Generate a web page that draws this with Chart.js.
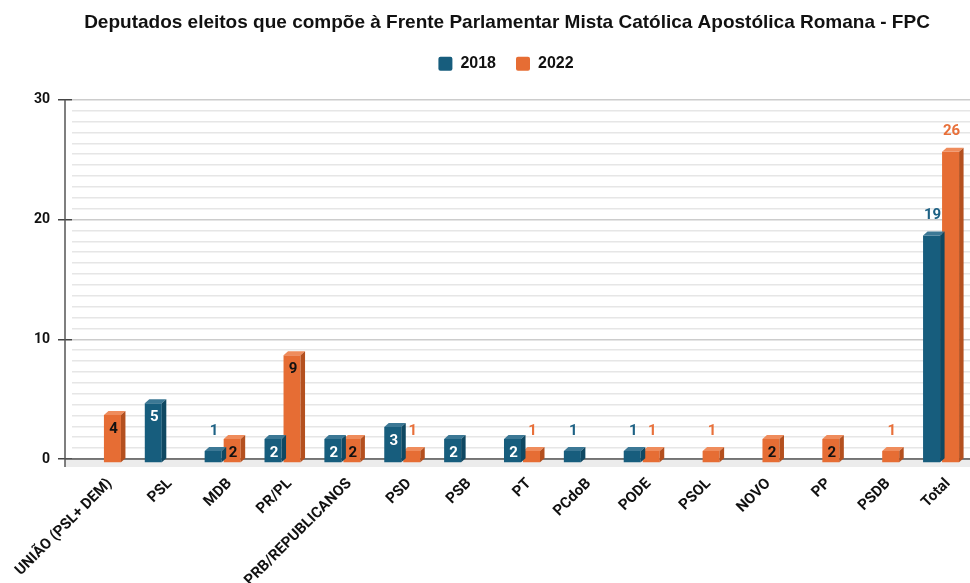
<!DOCTYPE html>
<html>
<head>
<meta charset="utf-8">
<script src="https://cdn.jsdelivr.net/npm/chart.js"></script>
<style>
  body { margin: 0; background: #fff; }
</style>
</head>
<body>
<canvas id="myChart" width="970" height="583"></canvas>
<script>
// Data
const categories = ['UNIÃO (PSL+ DEM)', 'PSL', 'MDB', 'PR/PL', 'PRB/REPUBLICANOS', 'PSD', 'PSB', 'PT', 'PCdoB', 'PODE', 'PSOL', 'NOVO', 'PP', 'PSDB', 'Total'];
const deputados2018 = [0, 5, 1, 2, 2, 3, 2, 2, 1, 1, 0, 0, 0, 0, 19];
const deputados2022 = [4, 0, 2, 9, 2, 1, 0, 1, 0, 1, 1, 2, 2, 1, 26];
const yTicks = [0, 10, 20, 30];

// 3d look: front face shifted down, top and side faces drawn by hand
const depth = { dx: 4.5, dy: 4 };
const faces = [
  { front: '#175d7d', top: '#3c7895', side: '#0f4862', inText: '#ffffff', outText: '#1d6184' },
  { front: '#e66d34', top: '#ef8c5c', side: '#b4501f', inText: '#111111', outText: '#e8703a' }
];

const bars3d = {
  id: 'bars3d',
  afterLayout(chart) {
    // title and legend sit a bit right of the canvas centre in the original
    chart.titleBlock.left += 44;
    chart.legend.left += 21;
    chart.legend.right += 21;
  },
  beforeDatasetsDraw(chart) {
    const { ctx, chartArea: a } = chart;
    const y0 = chart.scales.y.getPixelForValue(0);
    ctx.save();
    ctx.fillStyle = '#ececec';
    ctx.fillRect(a.left - 7, y0, a.right - a.left + 7, 8);
    ctx.strokeStyle = '#555';
    ctx.lineWidth = 1.5;
    ctx.beginPath();
    ctx.moveTo(a.left - 7, y0); ctx.lineTo(a.right, y0);
    ctx.moveTo(a.left - 7, a.top); ctx.lineTo(a.left - 7, y0 + 8);
    ctx.stroke();
    ctx.restore();
  },
  beforeDatasetDraw(chart) {
    chart.ctx.save();
    chart.ctx.translate(1, depth.dy);
  },
  afterDatasetDraw(chart, args) {
    const ctx = chart.ctx;
    const f = faces[args.index];
    const values = chart.data.datasets[args.index].data;
    args.meta.data.forEach((bar, i) => {
      if (!values[i]) return;
      const { x, y, base, width } = bar.getProps(['x', 'y', 'base', 'width'], true);
      const l = x - width / 2, r = x + width / 2;
      ctx.fillStyle = f.top;
      ctx.beginPath();
      ctx.moveTo(l, y); ctx.lineTo(l + depth.dx, y - depth.dy);
      ctx.lineTo(r + depth.dx, y - depth.dy); ctx.lineTo(r, y);
      ctx.closePath(); ctx.fill();
      ctx.fillStyle = f.side;
      ctx.beginPath();
      ctx.moveTo(r, y); ctx.lineTo(r + depth.dx, y - depth.dy);
      ctx.lineTo(r + depth.dx, base - depth.dy); ctx.lineTo(r, base);
      ctx.closePath(); ctx.fill();
    });
    ctx.restore();
  },
  afterDatasetsDraw(chart) {
    const ctx = chart.ctx;
    ctx.save();
    ctx.translate(1, depth.dy);
    ctx.font = 'bold 15px Roboto';
    ctx.textAlign = 'center';
    ctx.textBaseline = 'middle';
    chart.data.datasets.forEach((ds, d) => {
      const meta = chart.getDatasetMeta(d);
      meta.data.forEach((bar, i) => {
        const v = ds.data[i];
        if (!v) return;
        const { x, y } = bar.getProps(['x', 'y'], true);
        const outside = v <= 1 || categories[i] === 'Total';
        ctx.fillStyle = outside ? faces[d].outText : faces[d].inText;
        ctx.fillText(String(v), x + 1, outside ? y - 20 : y + 14);
      });
    });
    ctx.restore();
  }
};

const ctx = document.getElementById('myChart').getContext('2d');
const myChart = new Chart(ctx, {
  type: 'bar',
  data: {
    labels: categories,
    datasets: [
      { label: '2018', data: deputados2018, backgroundColor: faces[0].front, borderWidth: 0, xAxisID: 'x', yAxisID: 'y' },
      { label: '2022', data: deputados2022, backgroundColor: faces[1].front, borderWidth: 0, xAxisID: 'x', yAxisID: 'y' }
    ]
  },
  options: {
    responsive: false,
    animation: false,
    categoryPercentage: 0.635,
    barPercentage: 0.895,
    layout: { padding: 0 },
    plugins: {
      title: {
        display: true,
        text: 'Deputados eleitos que compõe à Frente Parlamentar Mista Católica Apostólica Romana - FPC',
        font: { size: 19, weight: 'bold', family: 'Liberation Sans' },
        color: '#111',
        padding: { top: 11, bottom: 2 }
      },
      legend: {
        labels: {
          boxWidth: 14, boxHeight: 14,
          font: { size: 16, weight: 'bold', family: 'Liberation Sans' },
          color: '#111', padding: 20,
          useBorderRadius: true, borderRadius: 2
        }
      },
      tooltip: { enabled: false }
    },
    scales: {
      x: {
        grid: { display: false, drawTicks: false },
        border: { display: false },
        ticks: {
          autoSkip: false, minRotation: 45, maxRotation: 45,
          font: { size: 15, weight: 'bold', family: 'Roboto' },
          color: '#111', padding: 16, labelOffset: 8
        },
        afterFit(s) { s.height = 124; s.paddingLeft = 0; s.paddingRight = 0; }
      },
      y: {
        min: yTicks[0],
        max: yTicks[yTicks.length - 1],
        ticks: {
          stepSize: yTicks[1] - yTicks[0],
          font: { size: 14, weight: 'bold', family: 'Roboto' },
          color: '#111', padding: 8
        },
        grid: { color: '#cccccc', tickColor: '#444', tickLength: 14, lineWidth: 1.5 },
        border: { display: false },
        afterFit(s) { s.width = 72; }
      },
      yMinor: {
        axis: 'y', position: 'left',
        min: 0, max: 33,
        ticks: { display: false, stepSize: 1, autoSkip: false },
        grid: {
          drawTicks: false,
          color: c => (c.tick && c.tick.value % 11 === 0) ? 'rgba(0,0,0,0)' : '#e6e6e6',
          lineWidth: 1.5
        },
        border: { display: false },
        afterFit(s) { s.width = 0; }
      },
      // empty band between legend and plot
      gap: {
        type: 'linear', axis: 'x', position: 'top',
        grid: { display: false, drawTicks: false },
        border: { display: false },
        ticks: { display: false },
        afterFit(s) { s.height = 18; s.paddingLeft = 0; s.paddingRight = 0; }
      }
    }
  },
  plugins: [bars3d]
});
</script>
</body>
</html>
